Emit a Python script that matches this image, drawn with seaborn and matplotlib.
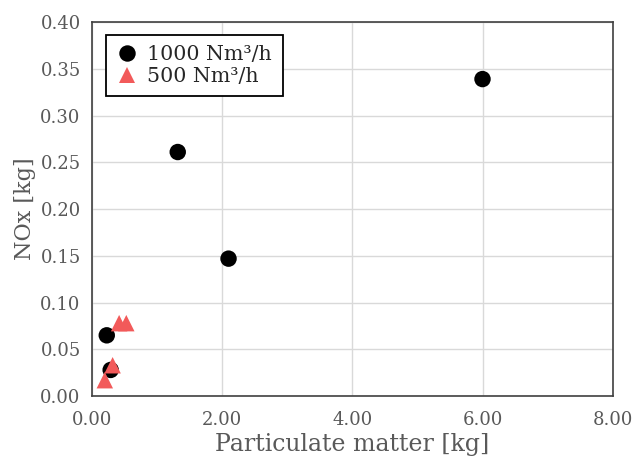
import matplotlib
matplotlib.use("Agg")
import matplotlib.pyplot as plt
import seaborn as sns
import pandas as pd

series_names = ["1000 Nm³/h", "500 Nm³/h"]
pm_1000 = [1.32, 2.10, 6.00, 0.23, 0.29]
nox_1000 = [0.261, 0.147, 0.339, 0.065, 0.028]
pm_500 = [0.20, 0.32, 0.42, 0.53]
nox_500 = [0.017, 0.033, 0.078, 0.078]
x_ticks = [0, 2, 4, 6, 8]
y_ticks = [0.0, 0.05, 0.10, 0.15, 0.20, 0.25, 0.30, 0.35, 0.40]

df = pd.DataFrame({
    "pm": pm_1000 + pm_500,
    "nox": nox_1000 + nox_500,
    "series": [series_names[0]] * len(pm_1000) + [series_names[1]] * len(pm_500),
})

sns.set_theme(style="whitegrid")
plt.rcParams["font.family"] = ["DejaVu Serif"]

fig, ax = plt.subplots(figsize=(6.33, 4.59), dpi=100)
fig.subplots_adjust(left=0.145, right=0.968, top=0.952, bottom=0.137)

sns.scatterplot(data=df, x="pm", y="nox", hue="series", style="series",
                palette={series_names[0]: "#000000", series_names[1]: "#F25A5A"},
                markers={series_names[0]: "o", series_names[1]: "^"},
                s=140, edgecolor="none", linewidth=0, ax=ax, zorder=3)

ax.set_xlim(0, 8)
ax.set_ylim(0, 0.4)
ax.set_xticks(x_ticks)
ax.set_yticks(y_ticks)
ax.set_xticklabels([f"{v:.2f}" for v in x_ticks])
ax.set_yticklabels([f"{v:.2f}" for v in y_ticks])
ax.grid(True, color="#D9D9D9", linewidth=1)
for sp in ax.spines.values():
    sp.set_color("#404040")
    sp.set_linewidth(1.2)
ax.tick_params(axis="x", colors="#595959", labelsize=13, length=0, pad=11)
ax.tick_params(axis="y", colors="#595959", labelsize=13, length=3,
               color="#D9D9D9", pad=5)
ax.set_xlabel("Particulate matter [kg]", fontsize=17, color="#595959", labelpad=2.5)
ax.set_ylabel("NOx [kg]", fontsize=16, color="#595959", labelpad=3)

leg = ax.legend(loc="upper left", bbox_to_anchor=(0.028, 0.965), fontsize=14.8,
                frameon=True, fancybox=False, handletextpad=0.5,
                borderpad=0.5, labelspacing=0.12, handlelength=1.0,
                borderaxespad=0)
leg.get_frame().set_edgecolor("#000000")
leg.get_frame().set_linewidth(1.3)
leg.get_frame().set_alpha(1)

fig.savefig("out.png", dpi=100)
